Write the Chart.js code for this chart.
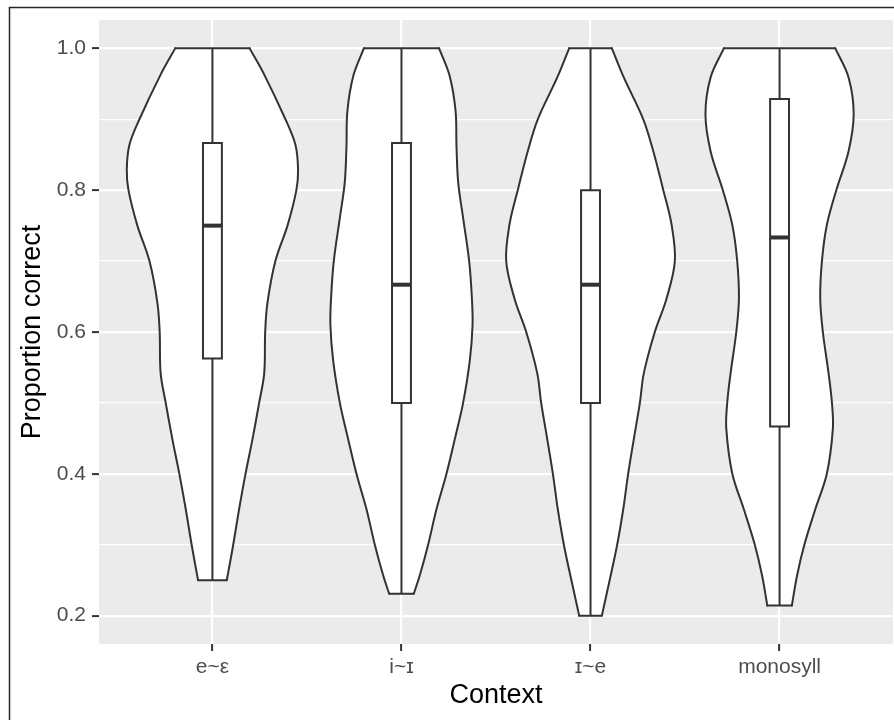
<!DOCTYPE html>
<html>
<head>
<meta charset="utf-8">
<script src="https://cdn.jsdelivr.net/npm/chart.js@4/dist/chart.umd.min.js"></script>
<style>
  html, body { margin: 0; padding: 0; background: #ffffff; }
  #wrap { width: 894px; height: 720px; }
</style>
</head>
<body>
<div id="wrap"><canvas id="chart" width="894" height="720"></canvas></div>
<script>
// Groups on the x axis
const categories = ['e~ε', 'i~ɪ', 'ɪ~e', 'monosyll'];

// y axis ticks (labelled majors and unlabelled minors)
const yMajorTicks = [0.2, 0.4, 0.6, 0.8, 1.0];
const yMinorTicks = [0.3, 0.5, 0.7, 0.9];

// Violin outlines: proportion level (top to bottom) and density half-width in group units
const levelsE = [1.0, 0.963, 0.90, 0.864, 0.829, 0.80, 0.75, 0.70, 0.641, 0.60, 0.542, 0.50, 0.449, 0.40, 0.35, 0.30, 0.25];
const widthsE = [0.197, 0.274, 0.386, 0.439, 0.453, 0.444, 0.397, 0.333, 0.291, 0.279, 0.274, 0.247, 0.212, 0.175, 0.141, 0.110, 0.076];

const levelsI = [1.0, 0.962, 0.912, 0.862, 0.811, 0.761, 0.70, 0.65, 0.61, 0.559, 0.50, 0.459, 0.40, 0.35, 0.30, 0.257, 0.2308];
const widthsI = [0.199, 0.254, 0.286, 0.291, 0.300, 0.326, 0.358, 0.372, 0.376, 0.361, 0.326, 0.291, 0.238, 0.185, 0.141, 0.097, 0.065];

const levelsIE = [1.0, 0.959, 0.90, 0.855, 0.80, 0.751, 0.70, 0.647, 0.60, 0.542, 0.50, 0.449, 0.40, 0.35, 0.30, 0.251, 0.20];
const widthsIE = [0.113, 0.176, 0.279, 0.332, 0.385, 0.429, 0.446, 0.402, 0.340, 0.282, 0.261, 0.229, 0.199, 0.173, 0.141, 0.102, 0.060];

const levelsMono = [1.0, 0.959, 0.907, 0.855, 0.80, 0.751, 0.70, 0.647, 0.60, 0.542, 0.50, 0.464, 0.40, 0.35, 0.30, 0.256, 0.2143];
const widthsMono = [0.295, 0.365, 0.392, 0.365, 0.300, 0.250, 0.224, 0.215, 0.229, 0.259, 0.277, 0.282, 0.250, 0.189, 0.131, 0.092, 0.065];

// Boxplot summaries per group
const whiskerLow  = [0.25, 0.2308, 0.20, 0.2143];
const quartile1   = [0.5625, 0.50, 0.50, 0.4667];
const medians     = [0.75, 0.6667, 0.6667, 0.7333];
const quartile3   = [0.8667, 0.8667, 0.80, 0.9286];
const whiskerHigh = [1.0, 1.0, 1.0, 1.0];

const violinLevels = [levelsE, levelsI, levelsIE, levelsMono];
const violinWidths = [widthsE, widthsI, widthsIE, widthsMono];

const INK = '#333333';
const FONT = "'Liberation Sans', Arial, Helvetica, sans-serif";
const BOX_HALF = 0.05;

function lineSet(points, extra) {
  return Object.assign({
    data: points,
    showLine: true,
    borderColor: INK,
    borderWidth: 2,
    pointRadius: 0,
    pointHoverRadius: 0,
    fill: false,
    tension: 0,
    borderCapStyle: 'round',
    borderJoinStyle: 'miter',
    order: 1
  }, extra || {});
}

const datasets = [];
categories.forEach((cat, i) => {
  const c = i + 1;
  const lv = violinLevels[i];
  const wd = violinWidths[i];
  const last = lv.length - 1;
  // violin sides: left filled across to the right side
  datasets.push(lineSet(lv.map((v, j) => ({ x: c - wd[j], y: v })),
    { fill: '+1', backgroundColor: '#FFFFFF', tension: 0.35, order: 2 }));
  datasets.push(lineSet(lv.map((v, j) => ({ x: c + wd[j], y: v })),
    { tension: 0.35, order: 2 }));
  // flat trimmed ends
  datasets.push(lineSet([{ x: c - wd[0], y: lv[0] }, { x: c + wd[0], y: lv[0] }], { order: 2 }));
  datasets.push(lineSet([{ x: c - wd[last], y: lv[last] }, { x: c + wd[last], y: lv[last] }], { order: 2 }));
  // whiskers
  datasets.push(lineSet([{ x: c, y: whiskerHigh[i] }, { x: c, y: quartile3[i] }], { borderCapStyle: 'butt' }));
  datasets.push(lineSet([{ x: c, y: quartile1[i] }, { x: c, y: whiskerLow[i] }], { borderCapStyle: 'butt' }));
  // box
  datasets.push(lineSet([
    { x: c - BOX_HALF, y: quartile3[i] },
    { x: c + BOX_HALF, y: quartile3[i] },
    { x: c + BOX_HALF, y: quartile1[i] },
    { x: c - BOX_HALF, y: quartile1[i] },
    { x: c - BOX_HALF, y: quartile3[i] }
  ], { borderCapStyle: 'square', fill: false }));
  // median
  datasets.push(lineSet([{ x: c - BOX_HALF, y: medians[i] }, { x: c + BOX_HALF, y: medians[i] }],
    { borderWidth: 4, borderCapStyle: 'butt' }));
});

const isMajor = v => yMajorTicks.some(t => Math.abs(t - v) < 1e-6);

const panelPlugin = {
  id: 'panelPlugin',
  beforeDraw(chart) {
    const { ctx, chartArea: a, width, height } = chart;
    ctx.save();
    ctx.fillStyle = '#FFFFFF';
    ctx.fillRect(0, 0, width, height);
    ctx.strokeStyle = '#262626';
    ctx.lineWidth = 1.5;
    ctx.strokeRect(9.5, 7.5, width + 50, height + 50);
    ctx.fillStyle = '#EBEBEB';
    ctx.fillRect(a.left, a.top, a.right - a.left, a.bottom - a.top);
    ctx.restore();
  }
};

new Chart(document.getElementById('chart'), {
  type: 'scatter',
  data: { datasets },
  plugins: [panelPlugin],
  options: {
    responsive: false,
    animation: false,
    events: [],
    indexAxis: 'y',
    layout: { padding: { top: 20, right: 1, left: 0, bottom: 0 } },
    plugins: {
      legend: { display: false },
      tooltip: { enabled: false },
      filler: { propagate: false, drawTime: 'beforeDatasetsDraw' }
    },
    scales: {
      x: {
        type: 'linear',
        min: 0.4,
        max: 4.6,
        afterBuildTicks: s => { s.ticks = categories.map((_, i) => ({ value: i + 1 })); },
        afterFit: s => { s.height = 76; },
        border: { display: false },
        grid: { color: '#FFFFFF', lineWidth: 2.2, tickColor: INK, tickLength: 7, tickWidth: 2 },
        ticks: {
          autoSkip: false,
          maxRotation: 0,
          padding: 4,
          color: '#4D4D4D',
          font: { family: FONT, size: 21 },
          callback: v => categories[Math.round(v) - 1]
        },
        title: {
          display: true,
          text: 'Context',
          color: '#000000',
          font: { family: FONT, size: 27 },
          padding: { top: 0, bottom: 8 }
        }
      },
      y: {
        type: 'linear',
        min: 0.16,
        max: 1.04,
        afterBuildTicks: s => {
          s.ticks = [...yMinorTicks, ...yMajorTicks].sort((a, b) => a - b).map(v => ({ value: v }));
        },
        afterFit: s => { s.width = 99; },
        border: { display: false },
        grid: {
          color: '#FFFFFF',
          lineWidth: c => (c.tick && isMajor(c.tick.value)) ? 2.2 : 1.2,
          tickColor: c => (c.tick && isMajor(c.tick.value)) ? INK : 'rgba(0,0,0,0)',
          tickLength: 7,
          tickWidth: 2
        },
        ticks: {
          autoSkip: false,
          padding: 6,
          color: '#4D4D4D',
          font: { family: FONT, size: 21 },
          callback: v => isMajor(v) ? v.toFixed(1) : ''
        },
        title: {
          display: true,
          text: 'Proportion correct',
          color: '#000000',
          font: { family: FONT, size: 27 },
          padding: { top: 16, bottom: 0 }
        }
      }
    }
  }
});
</script>
</body>
</html>
